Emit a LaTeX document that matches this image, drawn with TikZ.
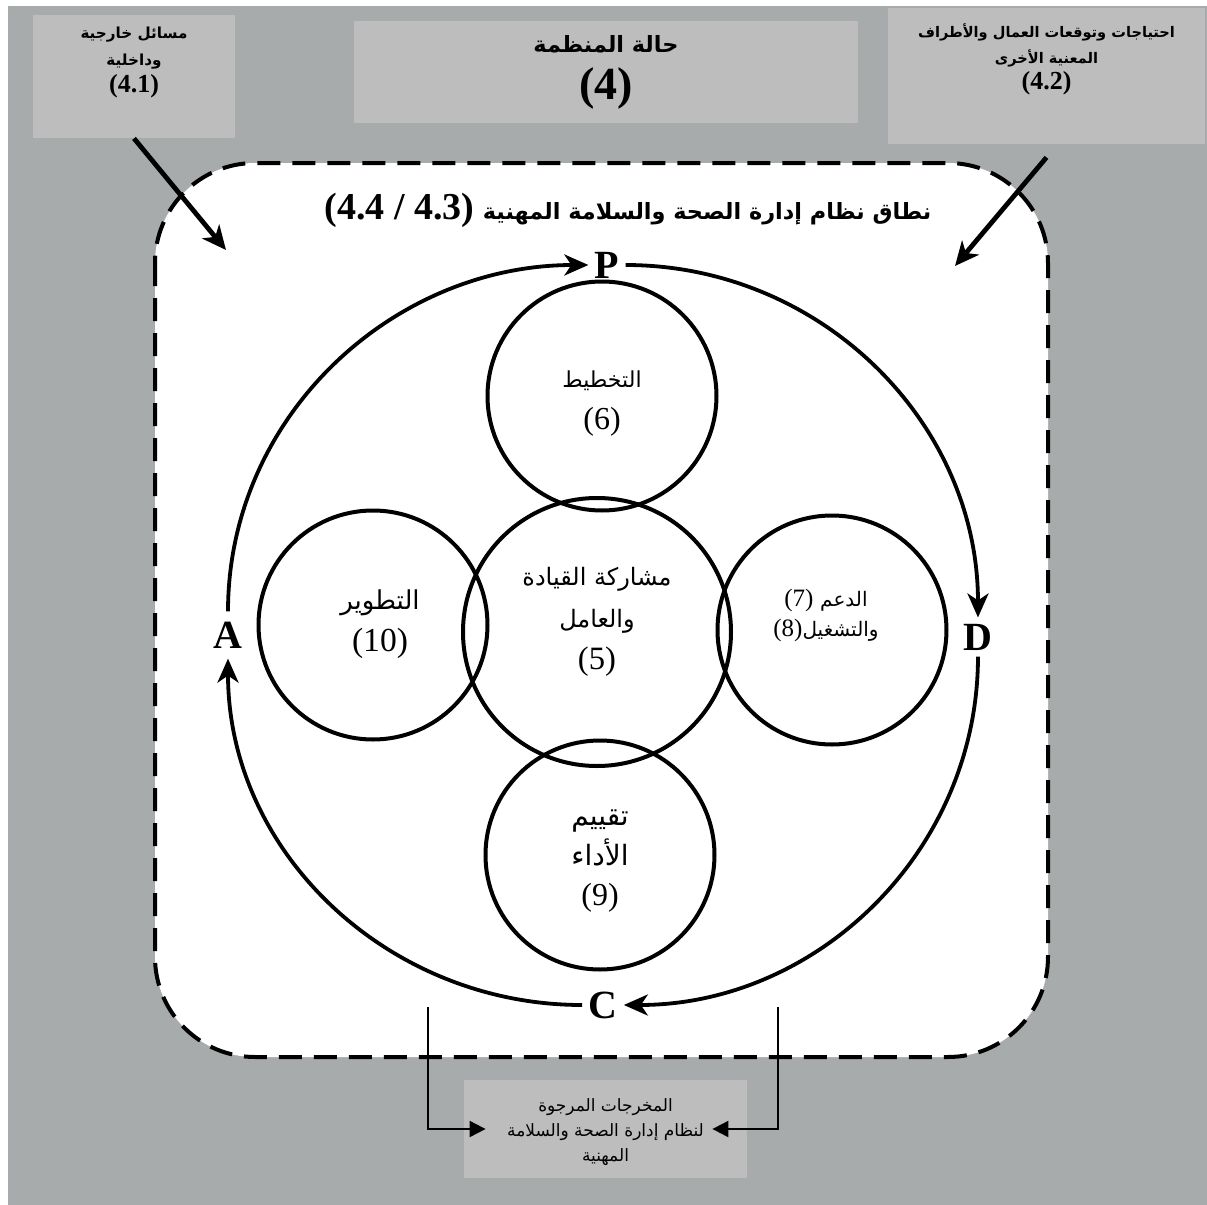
\documentclass[tikz,border=0pt]{standalone}
\usepackage{fontspec}
\usetikzlibrary{arrows.meta,positioning}
\TeXXeTstate=1
\newfontfamily\arabicfont[Script=Arabic]{DejaVu Sans}
\newfontfamily\numfont{Liberation Serif}
\newcommand\artxt[1]{{\arabicfont\beginR #1\endR}}
\newcommand\numtxt[2]{{\numfont\fontsize{#1}{#1}\selectfont #2}}
\definecolor{bggray}{RGB}{167,171,172}
\definecolor{boxgray}{RGB}{189,189,189}

\begin{document}
\begin{tikzpicture}[x=0.5pt,y=0.5pt,
  panel/.style={fill=boxgray,inner sep=0pt},
  ring/.style={draw,circle,line width=2pt,inner sep=0pt,minimum size=114.5pt},
  phase/.style={font=\numfont\bfseries\fontsize{20}{20}\selectfont,inner sep=3pt},
  pdca/.style={line width=1.9pt,-{Stealth[length=12pt,width=10.5pt,inset=3.5pt]}},
  feed/.style={line width=2.4pt,-{Stealth[length=12pt,width=11pt,inset=3.5pt]}},
  outflow/.style={line width=1pt,-{Triangle[length=8pt,width=8pt]}},
  ctext/.style={align=center}]
\useasboundingbox (0,0) rectangle (1207,-1205);
\fill[bggray] (8,-6) rectangle (1207,-1205);

% boxes round the frame
\node[panel,minimum width=101pt,minimum height=61.5pt] (ctxbox) at (134,-76.5) {};
\node[panel,minimum width=252pt,minimum height=51pt] (orgbox) at (606,-72) {};
\node[panel,minimum width=158.5pt,minimum height=68pt] (partybox) at (1046.5,-76) {};
\node[panel,minimum width=141.5pt,minimum height=49pt] (outbox) at (605.5,-1129) {};
\node[align=center,font=\bfseries\fontsize{7.6}{13.5}\selectfont] (ctxtxt) at (134,-62)
  {\artxt{مسائل خارجية}\\ \artxt{وداخلية}\\ \numtxt{13}{(4.1)}};
\node[align=center,font=\bfseries\fontsize{11.2}{23.5}\selectfont] (orgtxt) at (606,-72)
  {\artxt{حالة المنظمة}\\ \numtxt{23}{(4)}};
\node[align=center,font=\bfseries\fontsize{7.3}{13}\selectfont] (partytxt) at (1046.5,-59)
  {\artxt{احتياجات وتوقعات العمال والأطراف}\\ \artxt{المعنية الأخرى}\\ \numtxt{13}{(4.2)}};
\node[align=center,font=\fontsize{8.5}{12.5}\selectfont] (outtxt) at (605.5,-1132)
  {\artxt{المخرجات المرجوة}\\ \artxt{لنظام إدارة الصحة والسلامة}\\ \artxt{المهنية}};

% dashed scope frame
\draw[fill=white,line width=2pt,dash pattern=on 11.5pt off 6pt,rounded corners=50pt]
  (155,-163) rectangle (1048,-1057);
\node[font=\bfseries\fontsize{11.2}{18}\selectfont] (scopetxt) at (628,-210)
  {\numtxt{19}{(4.4 / 4.3)} \artxt{نطاق نظام إدارة الصحة والسلامة المهنية}};
\coordinate (ctxend) at (226,-250);
\coordinate (partyend) at (955,-266);
\draw[feed] (ctxbox.south) -- (ctxend);
\draw[feed] ([yshift=-6.5pt]partybox.south) -- (partyend);

% circles
\node[ring,minimum size=134pt] (lead) at (597,-632) {};
\node[ring] (plan) at (602,-396) {};
\node[ring] (improve) at (373,-625) {};
\node[ring] (support) at (832,-630) {};
\node[ring] (check) at (600,-855) {};
\node[ctext,font=\fontsize{12}{21}\selectfont] (leadtxt) at (597,-622)
  {\artxt{مشاركة القيادة}\\ \artxt{والعامل}\\ \numtxt{16.3}{(5)}};
\node[ctext,font=\fontsize{11}{21}\selectfont] (plantxt) at (602,-404)
  {\artxt{التخطيط}\\ \numtxt{16}{(6)}};
\node[ctext,font=\fontsize{13}{21}\selectfont] (improvetxt) at (380,-624)
  {\artxt{التطوير}\\ \numtxt{16.8}{(10)}};
\node[ctext,font=\fontsize{10}{15}\selectfont] (supporttxt) at (826,-615)
  {\numtxt{12.5}{(7)} \artxt{الدعم}\\ \numtxt{12.5}{(8)}\artxt{والتشغيل}};
\node[ctext,font=\fontsize{14}{20}\selectfont] (checktxt) at (600,-861)
  {\artxt{تقييم}\\ \artxt{الأداء}\\ \numtxt{16}{(9)}};

% PDCA cycle
\node[phase] (P) at (607,-265) {P};
\node[phase] (D) at (978,-637) {D};
\node[phase] (C) at (603,-1005) {C};
\node[phase,inner sep=5pt] (A) at (228,-635) {A};
\draw[pdca] (A.north) to[out=90,in=180] (P.west);
\draw[pdca] (P.east) to[out=0,in=90] (D.north);
\draw[pdca] (D.south) to[out=270,in=0] (C.east);
\draw[pdca] (C.west) to[out=180,in=270] (A.south);

% outputs
\coordinate (outL) at (428,-1007);
\coordinate (outR) at (778,-1007);
\draw[outflow] (outL) |- ([xshift=11pt]outbox.west);
\draw[outflow] (outR) |- ([xshift=-17.5pt]outbox.east);
\end{tikzpicture}
\end{document}
